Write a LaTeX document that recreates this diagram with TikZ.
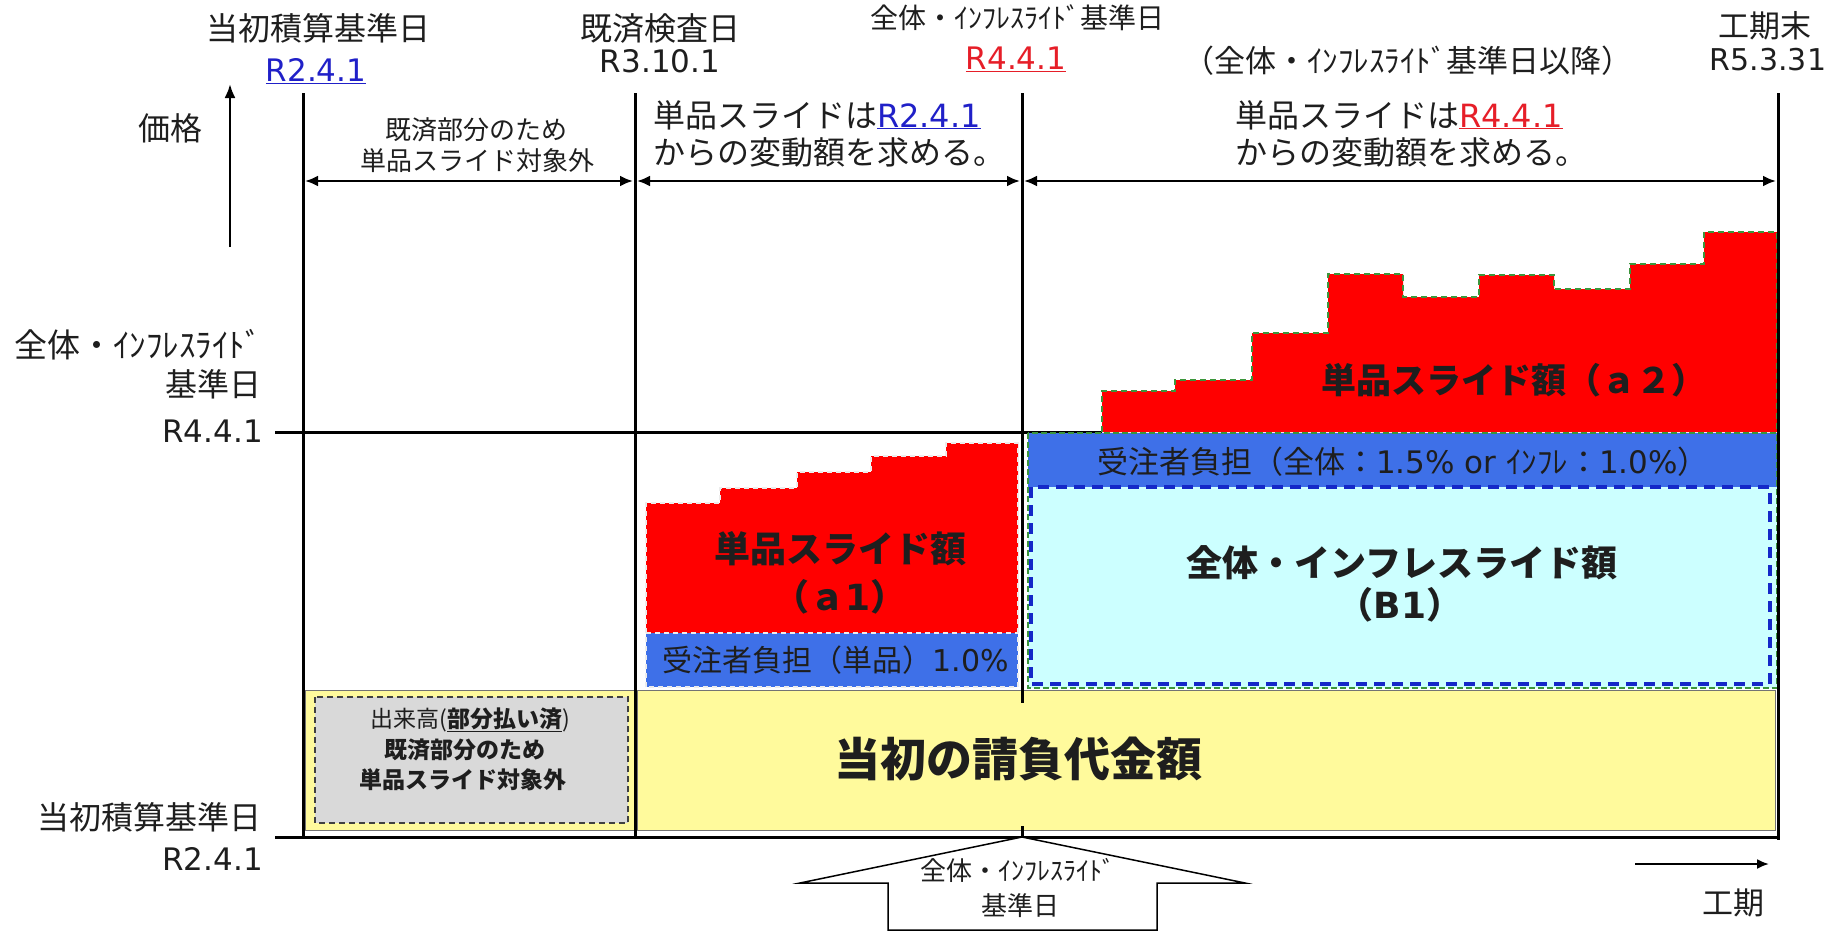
\documentclass[tikz,border=0pt]{standalone}
\usepackage{fontspec}
\setmainfont{Noto Sans CJK JP}
\newfontfamily\lat{DejaVu Sans}
\usetikzlibrary{arrows.meta}
\definecolor{bred}{RGB}{255,0,0}
\definecolor{bblue}{RGB}{62,112,232}
\definecolor{bcyan}{RGB}{204,255,255}
\definecolor{byellow}{RGB}{255,250,156}
\definecolor{bgray}{RGB}{217,217,217}
\definecolor{ublue}{RGB}{32,32,200}
\definecolor{ured}{RGB}{230,30,40}
\definecolor{dgreen}{RGB}{60,150,60}
\definecolor{dblue}{RGB}{20,40,200}
\definecolor{ink}{RGB}{30,30,30}
\newcommand\fsz[1]{\fontsize{#1}{#1}\selectfont}
\begin{document}
\begin{tikzpicture}[x=1pt,y=-1pt,
  every node/.style={inner sep=0pt, text=ink},
  vline/.style={line width=3pt, draw=black},
  dim/.style={line width=2.5pt, {Latex[length=13pt,width=11pt]}-{Latex[length=13pt,width=11pt]}},
  txt/.style={font=\fsz{#1}},
  btxt/.style={font=\fsz{#1}\bfseries},
]
\useasboundingbox[fill=white] (0,0) rectangle (1840,932);

% coordinates
\coordinate (vAtop) at (303,93);  \coordinate (vAbot) at (303,837);
\coordinate (vBtop) at (635,93);  \coordinate (vBbot) at (635,837);
\coordinate (vCtop) at (1022,93); \coordinate (vCbot) at (1022,703);
\coordinate (vCs1) at (1022,826); \coordinate (vCs2) at (1022,837);
\coordinate (vDtop) at (1778,93); \coordinate (vDbot) at (1778,840);
\coordinate (hR4a) at (275,432);  \coordinate (hR4b) at (1102,432);
\coordinate (axL) at (275,837);   \coordinate (axR) at (1779,837);

% R4.4.1 horizontal line
\draw[vline] (hR4a) -- (hR4b);

% a1 staircase
\fill[bred] (646,633) |- (720,503) |- (797,488) |- (871,472) |- (946,456) |- (1018,443) -- (1018,633) -- cycle;
\fill[bblue] (646,633) rectangle (1018,687);
\draw[white!85!gray, line width=1.3pt, dash pattern=on 5pt off 4pt]
  (646,687) -- (646,503) -- (720,503) -- (720,488) -- (797,488) -- (797,472) -- (871,472) -- (871,456) -- (946,456) -- (946,443) -- (1018,443) -- (1018,687) -- cycle;
\draw[white!85!gray, line width=1.3pt, dash pattern=on 5pt off 4pt] (646,633) -- (1018,633);

% a2 staircase
\fill[bred] (1102,432) |- (1175,391) |- (1252,380) |- (1328,333) |- (1403,274) |- (1479,297) |- (1554,275) |- (1630,289) |- (1704,264) |- (1777,232) -- (1777,432) -- cycle;
\draw[dgreen, line width=1.2pt, dash pattern=on 6pt off 4pt] (1102,432) |- (1175,391) |- (1252,380) |- (1328,333) |- (1403,274) |- (1479,297) |- (1554,275) |- (1630,289) |- (1704,264) |- (1777,232) -- (1777,432);

% right region
\fill[bblue] (1028,433) rectangle (1777,487);
\fill[bcyan] (1028,487) rectangle (1777,688);
\draw[dblue, line width=3.5pt, dash pattern=on 11pt off 7pt] (1031,487) rectangle (1770,684);
\draw[dgreen, line width=1.5pt, dash pattern=on 6pt off 3pt] (1028,433) rectangle (1777,688);

% yellow base
\filldraw[fill=byellow, draw=black!55, line width=1pt] (305,690) rectangle (636,830);
\filldraw[fill=byellow, draw=black!55, line width=1pt] (637,690) rectangle (1775,830);
\filldraw[fill=bgray, draw=black!75, line width=1.5pt, dash pattern=on 6pt off 4pt] (315,697) rectangle (628,823);

% main lines
\draw[vline] (vAtop) -- (vAbot);
\draw[vline] (vBtop) -- (vBbot);
\draw[vline] (vCtop) -- (vCbot);
\draw[vline] (vCs1) -- (vCs2);
\draw[vline] (vDtop) -- (vDbot);
\draw[vline] (axL) -- (axR);

% dimension arrows
\coordinate (d1a) at (305,181); \coordinate (d1b) at (633,181);
\coordinate (d2a) at (637,181); \coordinate (d2b) at (1020,181);
\coordinate (d3a) at (1024,181); \coordinate (d3b) at (1776,181);
\draw[dim] (d1a) -- (d1b);
\draw[dim] (d2a) -- (d2b);
\draw[dim] (d3a) -- (d3b);

% axis arrows
\coordinate (pA) at (230,247); \coordinate (pB) at (230,84);
\draw[line width=2.5pt, -{Latex[length=14pt,width=11pt]}] (pA) -- (pB);
\coordinate (kA) at (1635,864); \coordinate (kB) at (1769,864);
\draw[line width=2pt, -{Latex[length=12pt,width=10pt]}] (kA) -- (kB);

% bottom block arrow
\filldraw[fill=white, draw=black, line width=1.5pt]
  (1022,837) -- (1245,883) -- (1157,883) -- (1157,930) -- (888,930) -- (888,883) -- (800,883) -- cycle;

% top labels
\node[txt=32] (t1) at (318,28) {当初積算基準日};
\node[txt=31] (t1d) at (316,71) {\lat\color{ublue}\underline{R2.4.1}};
\node[txt=32] (t2) at (660,28) {既済検査日};
\node[txt=31] (t2d) at (660,61) {\lat R3.10.1};
\node[txt=28] (t3) at (1017,18) {全体・ｲﾝﾌﾚｽﾗｲﾄﾞ基準日};
\node[txt=31] (t3d) at (1016,59) {\lat\color{ured}\underline{R4.4.1}};
\node[txt=31] (t4) at (1408,61) {（全体・ｲﾝﾌﾚｽﾗｲﾄﾞ基準日以降）};
\node[txt=31] (t5) at (1765,26) {工期末};
\node[txt=30] (t5d) at (1768,60) {\lat R5.3.31};

% left labels
\node[txt=32, anchor=east] (kak) at (203,128) {価格};
\node[txt=33, anchor=east] (l1) at (262,345) {全体・ｲﾝﾌﾚｽﾗｲﾄﾞ};
\node[txt=32, anchor=east] (l2) at (262,384) {基準日};
\node[txt=31, anchor=east] (l3) at (263,431) {\lat R4.4.1};
\node[txt=32, anchor=east] (l4) at (262,817) {当初積算基準日};
\node[txt=31, anchor=east] (l5) at (263,859) {\lat R2.4.1};

% span labels
\node[txt=26] (s1a) at (476,130) {既済部分のため};
\node[txt=26] (s1b) at (477,161) {単品スライド対象外};
\node[txt=32, anchor=west] (s2a) at (653,115) {単品スライドは{\lat\color{ublue}\underline{R2.4.1}}};
\node[txt=32, anchor=west] (s2b) at (653,152) {からの変動額を求める。};
\node[txt=32, anchor=west] (s3a) at (1235,115) {単品スライドは{\lat\color{ured}\underline{R4.4.1}}};
\node[txt=32, anchor=west] (s3b) at (1235,152) {からの変動額を求める。};

% region texts
\node[btxt=36] (a1a) at (840,549) {単品スライド額};
\node[btxt=36] (a1b) at (840,597) {（ａ{\lat 1}）};
\node[txt=30] (f1) at (836,660) {受注者負担（単品）{\lat 1.0\%}};
\node[btxt=35] (a2) at (1514,380) {単品スライド額（ａ２）};
\node[txt=31] (f2) at (1403,462) {受注者負担（全体：{\lat 1.5\%~or~}ｲﾝﾌﾚ：{\lat 1.0\%}）};
\node[btxt=36] (b1a) at (1402,563) {全体・インフレスライド額};
\node[btxt=36] (b1b) at (1400,605) {（{\lat B1}）};
\node[btxt=46] (base) at (1018,759) {当初の請負代金額};
\node[txt=23] (g1) at (470,720) {出来高({\bfseries\underline{部分払い済}})};
\node[btxt=23] (g2) at (465,750) {既済部分のため};
\node[btxt=23] (g3) at (463,780) {単品スライド対象外};
\node[txt=26] (ar1) at (1018,870) {全体・ｲﾝﾌﾚｽﾗｲﾄﾞ};
\node[txt=26] (ar2) at (1020,906) {基準日};
\node[txt=31] (kk) at (1733,903) {工期};
\end{tikzpicture}
\end{document}
